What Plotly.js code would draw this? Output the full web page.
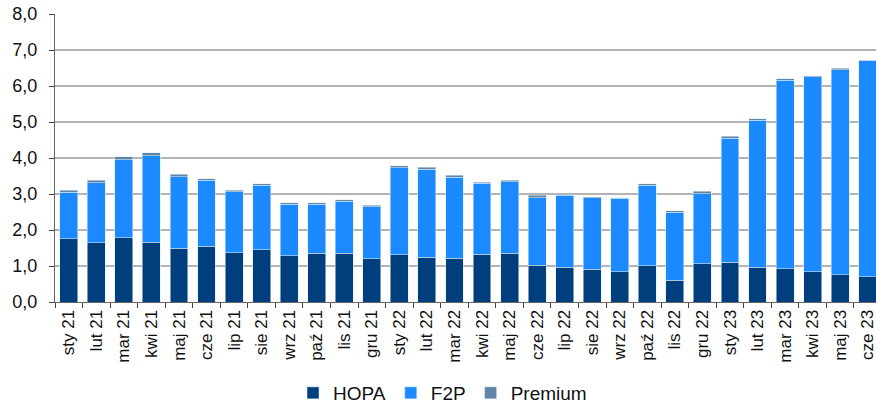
<!DOCTYPE html>
<html>
<head>
<meta charset="utf-8">
<script src="https://cdn.plot.ly/plotly-3.0.1.min.js"></script>
<style>html,body{margin:0;padding:0;background:#fff;}#chart{width:876px;height:406px;}</style>
</head>
<body>
<div id="chart"></div>
<script>
const months = ["sty 21","lut 21","mar 21","kwi 21","maj 21","cze 21","lip 21","sie 21","wrz 21","paź 21","lis 21","gru 21",
  "sty 22","lut 22","mar 22","kwi 22","maj 22","cze 22","lip 22","sie 22","wrz 22","paź 22","lis 22","gru 22",
  "sty 23","lut 23","mar 23","kwi 23","maj 23","cze 23"];
const hopa = [1.76,1.65,1.79,1.66,1.49,1.55,1.37,1.45,1.28,1.35,1.35,1.20,
  1.31,1.25,1.22,1.33,1.35,1.02,0.97,0.91,0.84,1.01,0.61,1.06,
  1.10,0.96,0.92,0.84,0.76,0.70];
const f2p = [1.29,1.66,2.16,2.40,1.99,1.83,1.69,1.79,1.44,1.37,1.45,1.44,
  2.42,2.44,2.25,1.97,1.99,1.88,2.00,1.99,2.04,2.23,1.88,1.95,
  3.45,4.09,5.24,5.42,5.69,6.00];
const premium = [0.06,0.07,0.08,0.09,0.07,0.04,0.05,0.04,0.04,0.04,0.04,0.05,
  0.05,0.06,0.05,0.02,0.04,0.06,0.03,0.03,0.02,0.04,0.04,0.06,
  0.05,0.04,0.04,0.02,0.04,0.02];
const yTicks = [0,1,2,3,4,5,6,7,8];

const edge = {color:'rgba(220,235,250,0.9)', width:0.6};
const traces = [
  {name:'HOPA', x:months, y:hopa, type:'bar', marker:{color:'#003f7d', line:edge}, width:0.65},
  {name:'F2P', x:months, y:f2p, type:'bar', marker:{color:'#1b89ff', line:edge}, width:0.65},
  {name:'Premium', x:months, y:premium, type:'bar', marker:{color:'#5f86a6', line:edge}, width:0.65}
];
const font = {family:'"Liberation Sans", Arial, sans-serif', size:17, color:'#111'};
const layout = {
  width:876, height:406,
  margin:{l:55, r:0, t:14, b:104, autoexpand:false},
  barmode:'stack',
  bargap:0.35,
  separators:', ',
  font:font,
  paper_bgcolor:'#fff', plot_bgcolor:'#fff',
  showlegend:true,
  legend:{orientation:'h', x:0.472, xanchor:'center', yref:'container', y:0.032, yanchor:'middle',
    font:{family:font.family, size:19, color:'#111'}, traceorder:'normal', itemwidth:30},
  xaxis:{type:'category', range:[-0.5, 29.3], tickangle:-90, showline:true, linecolor:'#666', linewidth:1,
    ticks:'outside', ticklen:5, tickcolor:'#444', tickson:'boundaries', showgrid:false, automargin:false,
    tickfont:{family:font.family, size:17, color:'#111'}},
  yaxis:{range:[0,8], tickvals:yTicks, tickformat:'.1f', showline:true, linecolor:'#666', linewidth:1,
    ticks:'outside', ticklen:5, tickcolor:'#444', showgrid:true, gridcolor:'#b4b4b4', gridwidth:1.5,
    zeroline:false, ticklabelstandoff:8, automargin:false,
    tickfont:{family:font.family, size:18, color:'#111'}}
};
Plotly.newPlot('chart', traces, layout, {staticPlot:true, displayModeBar:false});
</script>
</body>
</html>
